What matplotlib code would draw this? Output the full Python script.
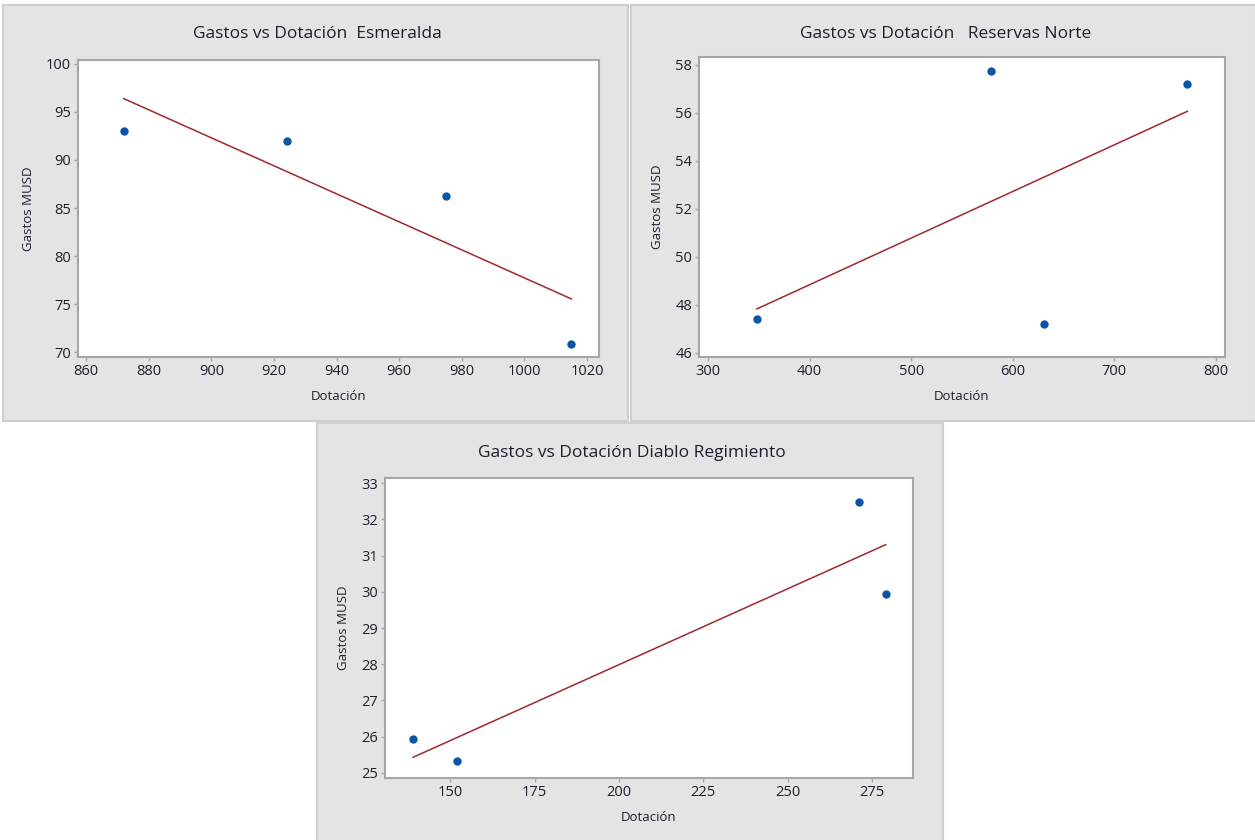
import matplotlib
matplotlib.use("Agg")
import matplotlib.pyplot as plt
from matplotlib.patches import Rectangle
import numpy as np

plt.rcParams.update({
    "font.family": ["Open Sans", "DejaVu Sans"],
    "font.size": 9,
})

W, H = 1255, 840

# ---- data ----
esm_dotacion = [872, 924, 975, 1015]
esm_gastos = [93.0, 92.0, 86.2, 70.9]

res_dotacion = [348, 579, 631, 772]
res_gastos = [47.4, 57.75, 47.2, 57.2]

dia_dotacion = [139, 152, 271, 279]
dia_gastos = [25.93, 25.33, 32.48, 29.93]

titles = ["Gastos vs Dotación  Esmeralda",
          "Gastos vs Dotación   Reservas Norte",
          "Gastos vs Dotación Diablo Regimiento"]

esm_xticks = [860, 880, 900, 920, 940, 960, 980, 1000, 1020]
esm_yticks = [70, 75, 80, 85, 90, 95, 100]
res_xticks = [300, 400, 500, 600, 700, 800]
res_yticks = [46, 48, 50, 52, 54, 56, 58]
dia_xticks = [150, 175, 200, 225, 250, 275]
dia_yticks = [25, 26, 27, 28, 29, 30, 31, 32, 33]

PANEL_BG = "#E4E4E4"
PANEL_EDGE = "#CFCFCF"
SPINE = "#A6A6A6"
TXT = "#1E1E2E"
DOT = "#0A55A5"
FIT = "#A0282C"


def px_rect(x0, y0, x1, y1):
    # pixel box (top-left origin) -> figure fraction [l, b, w, h]
    return [x0 / W, 1 - y1 / H, (x1 - x0) / W, (y1 - y0) / H]


fig = plt.figure(figsize=(W / 100, H / 100), dpi=100)
fig.patch.set_facecolor("white")

panels = [
    # frame box, axes box, title y
    dict(frame=(3, 5, 628, 421), ax=(78, 60, 599, 357), ty=34,
         x=esm_dotacion, y=esm_gastos, xt=esm_xticks, yt=esm_yticks,
         xlim=(857.4, 1023.8), ylim=(69.5, 100.4), title=titles[0]),
    dict(frame=(631, 5, 1256, 421), ax=(699, 57, 1225, 357), ty=34,
         x=res_dotacion, y=res_gastos, xt=res_xticks, yt=res_yticks,
         xlim=(291, 809), ylim=(45.83, 58.33), title=titles[1]),
    dict(frame=(317, 423, 943, 841), ax=(385, 478, 913, 778), ty=453,
         x=dia_dotacion, y=dia_gastos, xt=dia_xticks, yt=dia_yticks,
         xlim=(130.7, 287.1), ylim=(24.86, 33.14), title=titles[2]),
]

for p in panels:
    x0, y0, x1, y1 = p["frame"]
    l, b, w, h = px_rect(x0, y0, x1, y1)
    fig.patches.append(Rectangle((l, b), w, h, transform=fig.transFigure,
                                 facecolor=PANEL_BG, edgecolor=PANEL_EDGE,
                                 linewidth=1.5, zorder=-10))
    ax = fig.add_axes(px_rect(*p["ax"]))
    ax.set_zorder(5)
    ax.set_facecolor("white")
    x = np.array(p["x"], dtype=float)
    y = np.array(p["y"], dtype=float)

    # least-squares fit line across the data range
    slope, icpt = np.polyfit(x, y, 1)
    xs = np.array([x.min(), x.max()])
    ax.plot(xs, slope * xs + icpt, color=FIT, lw=1.1, zorder=2)
    ax.scatter(x, y, s=36, color=DOT, marker="o", zorder=3, linewidths=0)

    ax.set_xlim(*p["xlim"])
    ax.set_ylim(*p["ylim"])
    ax.set_xticks(p["xt"])
    ax.set_yticks(p["yt"])
    for s in ax.spines.values():
        s.set_color(SPINE)
        s.set_linewidth(1.5)
    ax.tick_params(direction="out", length=3, width=1, color=SPINE,
                   labelsize=10.5, labelcolor=TXT, pad=2)
    ax.set_xlabel("Dotación", fontsize=9.5, color=TXT, labelpad=8)
    ax.set_ylabel("Gastos MUSD", fontsize=9.5, color=TXT, labelpad=8)

    cx = (x0 + x1) / 2 + 2
    fig.text(cx / W, 1 - p["ty"] / H, p["title"], ha="center", va="center",
             fontsize=12.5, color=TXT, zorder=6)

fig.savefig("out.png", dpi=100, facecolor="white")
